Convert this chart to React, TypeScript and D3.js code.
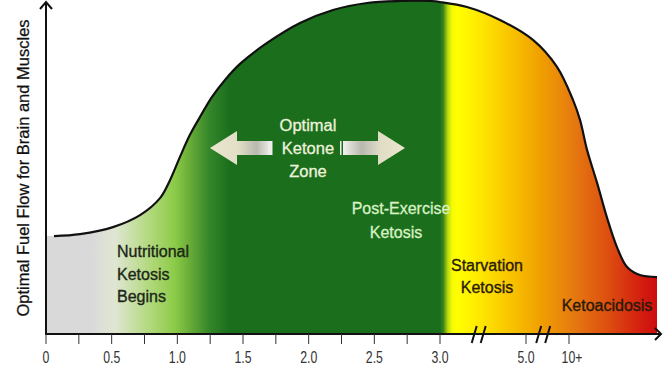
import React from "react";
import * as d3 from "d3";

const W = 665;
const H = 372;

// x break points (mmol/L) of the broken axis and the end of the plotted range
const xBreakDomain = [0, 3, 5, 10, 12];
// curve: blood ketone (axis-position units) vs optimal fuel flow (0-100)
const curveX = [0, 0.061, 0.259, 0.51, 0.716, 0.868, 0.944, 1.02, 1.096, 1.173, 1.264, 1.363, 1.477, 1.683, 1.934, 2.185, 2.444, 2.695, 2.924, 3.0, 3.628, 4.395, 5.81, 8.6, 10.09, 10.25, 10.41, 10.64, 10.86, 11.09, 11.32, 11.61, 12];
const curveY = [29.4, 29.4, 30.0, 32.1, 35.7, 40.8, 46.2, 53.2, 59.8, 65.2, 71.2, 76.3, 81.1, 87.4, 93.4, 97.3, 99.4, 100, 100, 99.7, 98.2, 94.3, 88.3, 80.2, 70.3, 64.3, 55.3, 45.3, 35.1, 26.1, 20.1, 17.7, 17.1];

// tick values and labels
const minorTicks = [0, 0.25, 0.5, 0.75, 1, 1.25, 1.5, 1.75, 2, 2.25, 2.5, 2.75, 3, 5, 10];
const labelTicks = [0, 0.5, 1, 1.5, 2, 2.5, 3, 5, 10];
const labelText = ["0", "0.5", "1.0", "1.5", "2.0", "2.5", "3.0", "5.0", "10+"];
const breaks = [3.9, 7.0];

// colour zones along the x axis
const stopX = [0, 0.335, 0.525, 0.79, 0.98, 1.1, 1.24, 1.4, 3.0, 3.08, 3.18, 3.28, 3.4, 3.77, 4.56, 6.63, 10.09, 10.86, 11.61, 12];
const stopC = ["#d9d9d9", "#d9d9d9", "#dfe6d2", "#b2d97c", "#8ccb48", "#67ab37", "#35872a", "#1a6e1c", "#1a6e1c", "#3f861a", "#b9d80e", "#f5fa02", "#ffff00", "#fff000", "#f9c800", "#f0a000", "#e67a10", "#dd5010", "#d42010", "#cc0c0c"];

const FONT = "'Liberation Sans', Arial, sans-serif";

export default function App() {
  const x = d3.scaleLinear().domain(xBreakDomain).range([46, 440, 526, 569, 657]);
  const y = d3.scaleLinear().domain([0, 100]).range([334, 1]);
  const pts = curveX.map((v, i) => [v, curveY[i]] as [number, number]);

  const line = d3.line<[number, number]>().x(d => x(d[0])).y(d => y(d[1])).curve(d3.curveCatmullRom.alpha(0.5));
  const area = d3.area<[number, number]>().x(d => x(d[0])).y0(y(0)).y1(d => y(d[1])).curve(d3.curveCatmullRom.alpha(0.5));

  const x0 = x(0), x1 = x(12);
  const axisY = y(0);

  const arrowPath = (tipX: number, dir: number, cy: number) => {
    const headLen = 27, headH = 17, shaftH = 7, len = 62;
    const b = tipX - dir * headLen;
    const e = tipX - dir * len;
    return `M${tipX},${cy} L${b},${cy - headH} L${b},${cy - shaftH} L${e},${cy - shaftH} L${e},${cy + shaftH} L${b},${cy + shaftH} L${b},${cy + headH} Z`;
  };

  return (
    <svg width={W} height={H} style={{ position: "absolute", left: 0, top: 0, background: "#fff" }} fontFamily={FONT}>
      <defs>
        <linearGradient id="zone" gradientUnits="userSpaceOnUse" x1={x0} x2={x1} y1={0} y2={0}>
          {stopX.map((s, i) => (
            <stop key={i} offset={(x(s) - x0) / (x1 - x0)} stopColor={stopC[i]} />
          ))}
        </linearGradient>
        <linearGradient id="arrL" x1="0" x2="1" y1="0" y2="0">
          <stop offset="0" stopColor="#ebe6cc" />
          <stop offset="0.45" stopColor="#e2dfc8" />
          <stop offset="0.75" stopColor="#b9b9ae" />
          <stop offset="1" stopColor="#f4f4ee" />
        </linearGradient>
        <linearGradient id="arrR" x1="0" x2="1" y1="0" y2="0">
          <stop offset="0" stopColor="#f2f2ec" />
          <stop offset="0.3" stopColor="#b8b8ae" />
          <stop offset="0.6" stopColor="#e0ddc6" />
          <stop offset="1" stopColor="#ebe6cc" />
        </linearGradient>
      </defs>

      <path d={area(pts) || ""} fill="url(#zone)" />
      <path d={line(pts.slice(1)) || ""} fill="none" stroke="#111" strokeWidth={2.2} />

      {/* arrows */}
      <path d={arrowPath(210, -1, 148)} fill="url(#arrL)" />
      <rect x={268} y={141} width={1.5} height={14} fill="#eee" />
      <rect x={271} y={141} width={1.5} height={14} fill="#eee" />
      <path d={arrowPath(405, 1, 148)} fill="url(#arrR)" />
      <rect x={340} y={141} width={1.5} height={14} fill="#eee" />
      <rect x={343} y={141} width={1.5} height={14} fill="#eee" />

      {/* zone labels */}
      <g fill="#eef2dc" stroke="#eef2dc" strokeWidth={0.3} fontSize={16.5} textAnchor="middle">
        <text x={308} y={131}>Optimal</text>
        <text x={308} y={154}>Ketone</text>
        <text x={308} y={177}>Zone</text>
      </g>
      <g fill="#d9f2c4" stroke="#d9f2c4" strokeWidth={0.3} fontSize={16} textAnchor="middle">
        <text x={401} y={214}>Post-Exercise</text>
        <text x={396} y={238}>Ketosis</text>
      </g>
      <g fill="#1c261a" stroke="#1c261a" strokeWidth={0.35} fontSize={16}>
        <text x={117} y={257}>Nutritional</text>
        <text x={117} y={280}>Ketosis</text>
        <text x={117} y={302}>Begins</text>
      </g>
      <g fill="#2a1a08" stroke="#2a1a08" strokeWidth={0.35} fontSize={16} textAnchor="middle">
        <text x={487} y={271}>Starvation</text>
        <text x={487} y={293}>Ketosis</text>
        <text x={607} y={311}>Ketoacidosis</text>
      </g>

      {/* axes */}
      <line x1={46} x2={46} y1={axisY + 1} y2={2} stroke="#111" strokeWidth={2} />
      <path d="M40,9 L46,2 L52,9" fill="none" stroke="#111" strokeWidth={2} />
      <line x1={45} x2={661} y1={axisY} y2={axisY} stroke="#111" strokeWidth={2} />
      <path d={`M655,${axisY - 6} L661,${axisY} L655,${axisY + 6}`} fill="none" stroke="#111" strokeWidth={2} />

      {minorTicks.map((t, i) => (
        <line key={i} x1={x(t)} x2={x(t)} y1={axisY} y2={axisY + 10} stroke="#333" strokeWidth={1} />
      ))}
      {labelTicks.map((t, i) => (
        <text
          key={i}
          transform={`translate(${x(t) + (labelText[i] === "10+" ? 3 : 0)},363) scale(0.82,1.05)`}
          fontSize={15}
          fill="#333"
          textAnchor="middle"
        >
          {labelText[i]}
        </text>
      ))}
      {breaks.map((b, i) => (
        <g key={i} stroke="#111" strokeWidth={2}>
          <line x1={x(b) - 7} x2={x(b) - 2} y1={axisY + 9} y2={axisY - 8} />
          <line x1={x(b) + 2} x2={x(b) + 7} y1={axisY + 9} y2={axisY - 8} />
        </g>
      ))}

      <text transform="translate(29,168) rotate(-90)" textAnchor="middle" fontSize={16.5} fill="#111" stroke="#111" strokeWidth={0.25}>
        Optimal Fuel Flow for Brain and Muscles
      </text>
    </svg>
  );
}
